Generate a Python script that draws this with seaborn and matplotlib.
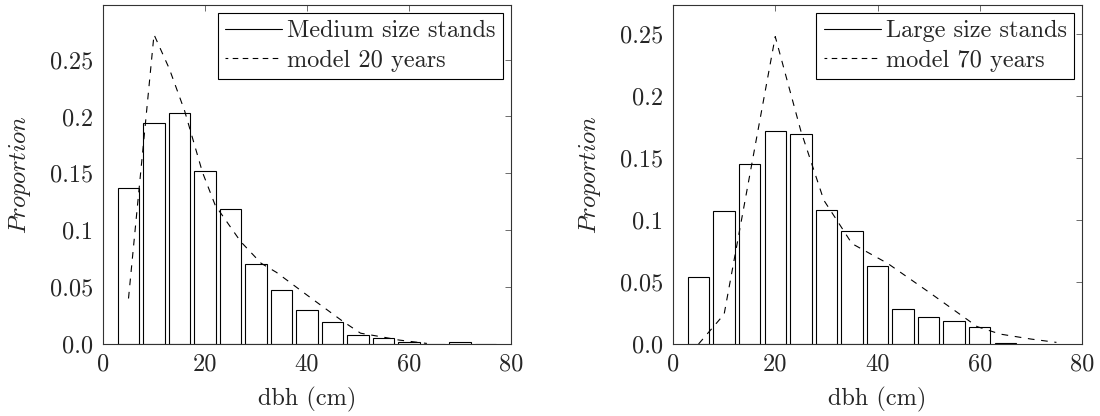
import matplotlib
matplotlib.use("Agg")
import matplotlib.pyplot as plt
import seaborn as sns
import pandas as pd
from matplotlib.lines import Line2D

# ---- data ----
medium_dbh = [5, 10, 15, 20, 25, 30, 35, 40, 45, 50, 55, 60, 65, 70, 75]
medium_prop = [0.137, 0.1945, 0.203, 0.152, 0.119, 0.0704, 0.0472, 0.0302,
               0.0191, 0.0082, 0.005, 0.0015, 0.0004, 0.0015, 0.0003]
model20_dbh = [5, 10, 13, 16, 19.5, 22, 27, 31, 34, 40, 47, 50.5, 55, 58, 63.5]
model20_prop = [0.040, 0.272, 0.242, 0.205, 0.151, 0.122, 0.090, 0.071, 0.063,
                0.043, 0.020, 0.0095, 0.006, 0.0035, 0.0005]

large_dbh = [5, 10, 15, 20, 25, 30, 35, 40, 45, 50, 55, 60, 65]
large_prop = [0.0543, 0.107, 0.145, 0.172, 0.1696, 0.1083, 0.0914, 0.0632,
              0.028, 0.022, 0.0185, 0.0134, 0.0008]
model70_dbh = [5, 10, 20, 25, 29.5, 32.5, 35, 42, 50, 59.5, 64, 70, 75]
model70_prop = [0.0, 0.024, 0.248, 0.172, 0.116, 0.097, 0.081, 0.065, 0.042,
                0.014, 0.008, 0.004, 0.0013]

bar_labels = ["Medium size stands", "Large size stands"]
model_labels = ["model 20 years", "model 70 years"]
x_ticks = [0, 20, 40, 60, 80]
y_ticks = [0, 0.05, 0.1, 0.15, 0.2, 0.25]
y_tick_labels = ["0.0", "0.05", "0.1", "0.15", "0.2", "0.25"]
x_label = "dbh (cm)"
y_label = "$Proportion$"

# ---- style ----
sns.set_style("white")
plt.rcParams.update({
    "font.family": ["cmr10"],
    "mathtext.fontset": "cm",
    "axes.formatter.use_mathtext": True,
    "axes.unicode_minus": False,
})
FS = 17.5

fig = plt.figure(figsize=(11, 4.16), dpi=100)
ax1 = fig.add_axes([103 / 1100, 72 / 416, 408 / 1100, 339 / 416])
ax2 = fig.add_axes([673 / 1100, 72 / 416, 409 / 1100, 339 / 416])

panels = [
    (ax1, medium_dbh, medium_prop, model20_dbh, model20_prop, 0.298, 0),
    (ax2, large_dbh, large_prop, model70_dbh, model70_prop, 0.2735, 1),
]

for ax, bx, by, mx, my, ymax, i in panels:
    bars = pd.DataFrame({"dbh": bx, "prop": by})
    model = pd.DataFrame({"dbh": mx, "prop": my})
    sns.barplot(data=bars, x="dbh", y="prop", native_scale=True, width=0.84,
                color="white", saturation=1, edgecolor="black", linewidth=0.8,
                ax=ax)
    sns.lineplot(data=model, x="dbh", y="prop", color="black", linewidth=0.8,
                 linestyle=(0, (6, 6)), ax=ax)
    ax.set_xlim(0, 80)
    ax.set_ylim(0, ymax)
    ax.set_xticks(x_ticks)
    ax.set_xticklabels([str(t) for t in x_ticks])
    ax.set_yticks(y_ticks)
    ax.set_yticklabels(y_tick_labels)
    ax.tick_params(direction="in", length=4.5, width=0.6, color="#555555",
                   top=True, right=True, labelsize=FS, pad=7)
    for sp in ax.spines.values():
        sp.set_visible(True)
        sp.set_color("#333333")
        sp.set_linewidth(0.8)
    ax.set_xlabel(x_label, fontsize=FS, labelpad=8)
    ax.set_ylabel(y_label, fontsize=FS, labelpad=12)
    handles = [Line2D([], [], color="black", linewidth=0.8),
               Line2D([], [], color="black", linewidth=0.8, linestyle=(2.5, (5, 4)))]
    leg = ax.legend(handles, [bar_labels[i], model_labels[i]], loc="upper right",
                    fontsize=FS, frameon=True, fancybox=False, framealpha=1,
                    edgecolor="black", borderaxespad=0.33, borderpad=0.3,
                    handlelength=2.35, handletextpad=0.2, labelspacing=0.3)
    leg.get_frame().set_linewidth(0.8)

fig.savefig("out.png", dpi=100)
